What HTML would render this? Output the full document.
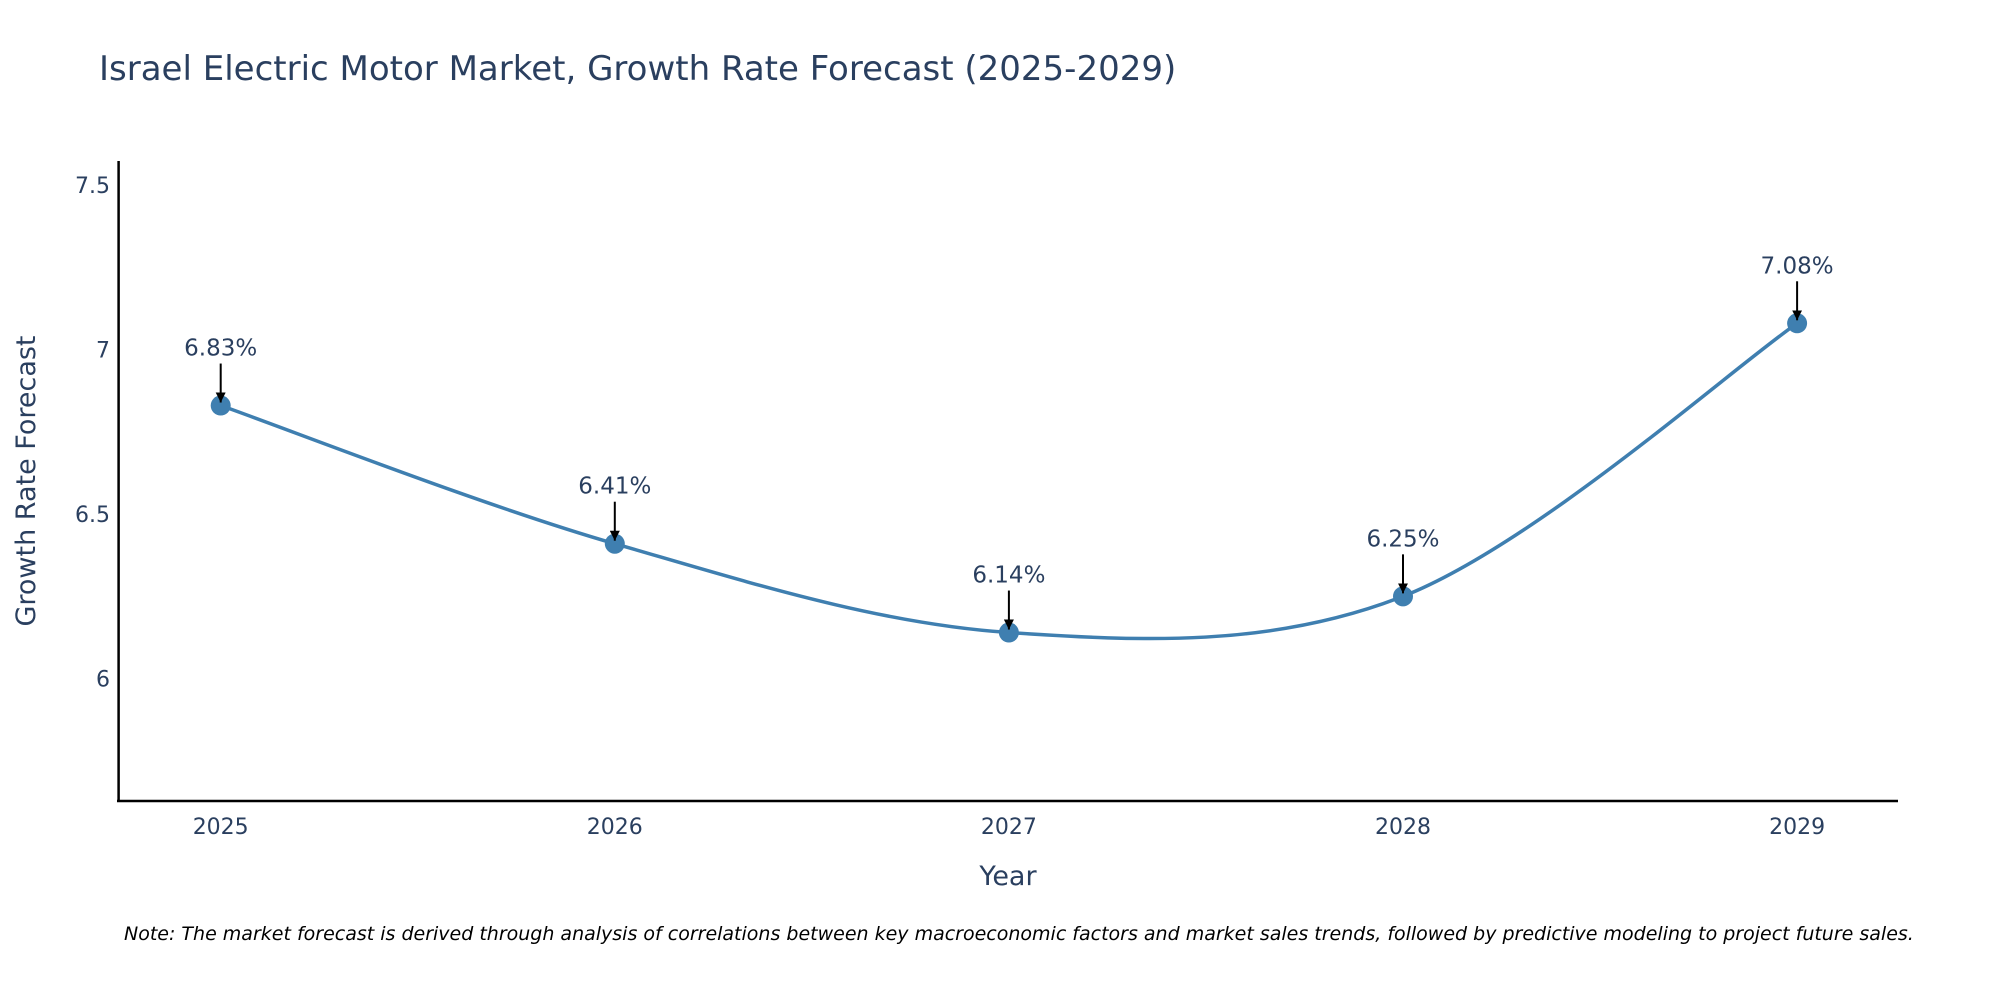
<!DOCTYPE html>
<html><head><meta charset="utf-8"><style>
body{margin:0;background:#fff;}
svg text{font-family:"DejaVu Sans","Liberation Sans",sans-serif;}
</style></head><body>
<svg id="chart" width="2000" height="1000" viewBox="0 0 2000 1000" xmlns="http://www.w3.org/2000/svg">
<defs><marker id="ah" viewBox="0 0 10 10" refX="10" refY="5" markerWidth="5" markerHeight="5" orient="auto"><path d="M0,0 L10,5 L0,10 z" fill="#000"/></marker></defs>
<text x="99" y="80" font-size="34" fill="#2a3f5f">Israel Electric Motor Market, Growth Rate Forecast (2025-2029)</text>
<g id="yticks"></g><g id="xticks"></g>
<line x1="118.6" y1="161" x2="118.6" y2="802" stroke="#000" stroke-width="2.5"/>
<line x1="117" y1="801" x2="1898" y2="801" stroke="#000" stroke-width="2.5"/>
<path id="line" fill="none" stroke="#3f7fb0" stroke-width="3.5"/>
<g id="marks"></g>
<text x="1008" y="885" font-size="27" fill="#2a3f5f" text-anchor="middle">Year</text>
<text transform="translate(35,481) rotate(-90)" font-size="27" fill="#2a3f5f" text-anchor="middle">Growth Rate Forecast</text>
<text x="124" y="940" font-size="19" font-style="italic" fill="#000">Note: The market forecast is derived through analysis of correlations between key macroeconomic factors and market sales trends, followed by predictive modeling to project future sales.</text>
</svg>
<script>
const years=[2025,2026,2027,2028,2029];
const values=[6.83,6.41,6.14,6.25,7.08];
const yTicks=[6,6.5,7,7.5];
const yTickLabels=["6","6.5","7","7.5"];
const ns="http://www.w3.org/2000/svg";
function xs(v){return 220.7+(v-2025)*394.1;}
function ys(v){return 678.6-(v-6)*329;}
function mk(t,a){const e=document.createElementNS(ns,t);for(const k in a)e.setAttribute(k,a[k]);return e;}
const yt=document.getElementById('yticks');
yTicks.forEach((v,i)=>{const t=mk('text',{x:110,y:ys(v)+8,'font-size':22,fill:'#2a3f5f','text-anchor':'end'});


t.textContent=yTickLabels[i];yt.appendChild(t);});
const xt=document.getElementById('xticks');
years.forEach(y=>{const t=mk('text',{x:xs(y),y:834,'font-size':22,fill:'#2a3f5f','text-anchor':'middle'});


t.textContent=String(y);xt.appendChild(t);});
const P=years.map((y,i)=>[xs(y),ys(values[i])]);
let d='M'+P[0][0]+','+P[0][1];
for(let i=0;i<P.length-1;i++){const p0=P[Math.max(0,i-1)],p1=P[i],p2=P[i+1],p3=P[Math.min(P.length-1,i+2)];const s=1/6;
d+=' C'+(p1[0]+(p2[0]-p0[0])*s)+','+(p1[1]+(p2[1]-p0[1])*s)+' '+(p2[0]-(p3[0]-p1[0])*s)+','+(p2[1]-(p3[1]-p1[1])*s)+' '+p2[0]+','+p2[1];}
document.getElementById('line').setAttribute('d',d);
const g=document.getElementById('marks');
P.forEach((p,i)=>{
const c=mk('circle',{cx:p[0],cy:p[1],r:10,fill:'#3f7fb0'});


g.appendChild(c);
const a=mk('line',{x1:p[0],y1:p[1]-42,x2:p[0],y2:p[1]-3,stroke:'#000','stroke-width':2,'marker-end':'url(#ah)'});


g.appendChild(a);
const t=mk('text',{x:p[0],y:p[1]-50,'font-size':23,fill:'#2a3f5f','text-anchor':'middle'});


t.textContent=values[i].toFixed(2)+'%';g.appendChild(t);});
</script>
</body></html>
